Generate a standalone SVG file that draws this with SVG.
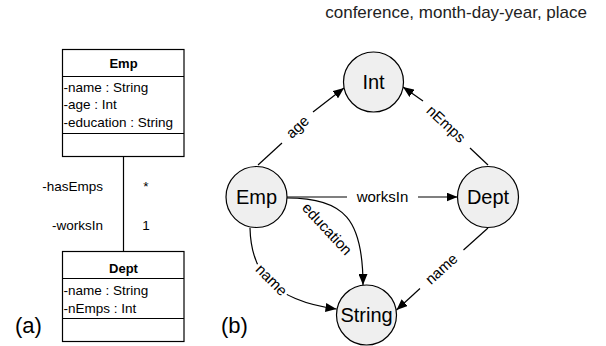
<svg xmlns="http://www.w3.org/2000/svg" width="606" height="346" viewBox="0 0 606 346">
<defs>
<style>
text{font-family:"Liberation Sans",Arial,sans-serif;fill:#000}
.box{fill:#fff;stroke:#000;stroke-width:1.2}
.div{stroke:#000;stroke-width:1.2}
.uml{font-size:13.5px}
.ttl{font-size:13px;font-weight:bold;text-anchor:middle}
.node{fill:#efefef;stroke:#000;stroke-width:1.2}
.nl{font-size:20px;text-anchor:middle}
.edge{fill:none;stroke:#000;stroke-width:1.2}
.el{font-size:15px;text-anchor:middle}
.lab{font-size:22px}
</style>
<marker id="ah" markerUnits="userSpaceOnUse" markerWidth="12" markerHeight="9" refX="11" refY="4.5" orient="auto">
<path d="M0,0 L11,4.5 L0,9 z" fill="#000"/>
</marker>
</defs>
<rect width="606" height="346" fill="#fff"/>
<text x="587" y="18" style="font-size:17px;text-anchor:end;fill:#222">conference, month-day-year, place</text>

<!-- (a) UML -->
<g id="uml-connectors">
<line class="div" x1="123.5" y1="156.5" x2="123.5" y2="251.5"/>
<text class="uml" x="103" y="191" text-anchor="end">-hasEmps</text>
<text class="uml" x="146" y="191" text-anchor="middle">*</text>
<text class="uml" x="103" y="230" text-anchor="end">-worksIn</text>
<text class="uml" x="146" y="230" text-anchor="middle">1</text>
</g>
<g id="uml-emp">
<rect class="box" x="62.5" y="49.5" width="121.5" height="107"/>
<line class="div" x1="62.5" y1="76.5" x2="184" y2="76.5"/>
<line class="div" x1="62.5" y1="133.5" x2="184" y2="133.5"/>
<text class="ttl" x="123.5" y="68">Emp</text>
<text class="uml" x="63.5" y="92">-name : String</text>
<text class="uml" x="63.5" y="109">-age : Int</text>
<text class="uml" x="63.5" y="126.5">-education : String</text>
</g>
<g id="uml-dept">
<rect class="box" x="62.5" y="251.5" width="121.5" height="90"/>
<line class="div" x1="62.5" y1="278.5" x2="184" y2="278.5"/>
<line class="div" x1="62.5" y1="318.5" x2="184" y2="318.5"/>
<text class="ttl" x="123.5" y="273">Dept</text>
<text class="uml" x="63.5" y="295">-name : String</text>
<text class="uml" x="63.5" y="313">-nEmps : Int</text>
</g>
<text class="lab" x="15" y="333">(a)</text>
<text class="lab" x="221" y="333">(b)</text>

<!-- (b) graph -->
<g id="connectors">
<!-- age -->
<line class="edge" x1="258" y1="165" x2="282" y2="143"/>
<line class="edge" x1="313" y1="112" x2="344" y2="88" marker-end="url(#ah)"/>
<text class="el" transform="translate(297.5,127) rotate(-43)" y="5">age</text>
<!-- nEmps -->
<line class="edge" x1="488" y1="165" x2="470" y2="148"/>
<line class="edge" x1="423" y1="101" x2="403" y2="87" marker-end="url(#ah)"/>
<text class="el" transform="translate(446,124) rotate(43)" y="5">nEmps</text>
<!-- worksIn -->
<line class="edge" x1="287" y1="197" x2="347" y2="197"/>
<line class="edge" x1="418" y1="197" x2="457.5" y2="197" marker-end="url(#ah)"/>
<text class="el" x="382.5" y="202">worksIn</text>
<!-- education -->
<path class="edge" d="M287,198 C345,198 363,220 363,285" marker-end="url(#ah)"/>
<text class="el" transform="translate(327,229) rotate(47)" y="5">education</text>
<!-- Emp name -->
<path class="edge" d="M250,228 C251,270 270,300 336.5,309" marker-end="url(#ah)"/>
<rect x="-21" y="-8" width="42" height="16" fill="#fff" transform="translate(271.5,280) rotate(45)"/>
<text class="el" transform="translate(271.5,280) rotate(45)" y="5">name</text>
<!-- Dept name -->
<line class="edge" x1="488" y1="228" x2="463.5" y2="250"/>
<line class="edge" x1="420" y1="288.5" x2="396.5" y2="310" marker-end="url(#ah)"/>
<text class="el" transform="translate(441.5,269) rotate(-42)" y="5">name</text>
</g>
<g id="node-int">
<circle class="node" cx="373.5" cy="82" r="30"/>
<text class="nl" x="373.5" y="89">Int</text>
</g>
<g id="node-emp">
<circle class="node" cx="256.5" cy="197" r="30.5"/>
<text class="nl" x="256.5" y="204">Emp</text>
</g>
<g id="node-dept">
<circle class="node" cx="488" cy="197" r="30.5"/>
<text class="nl" x="488" y="204">Dept</text>
</g>
<g id="node-string">
<circle class="node" cx="366.5" cy="315" r="30"/>
<text class="nl" x="366.5" y="322">String</text>
</g>
</svg>
